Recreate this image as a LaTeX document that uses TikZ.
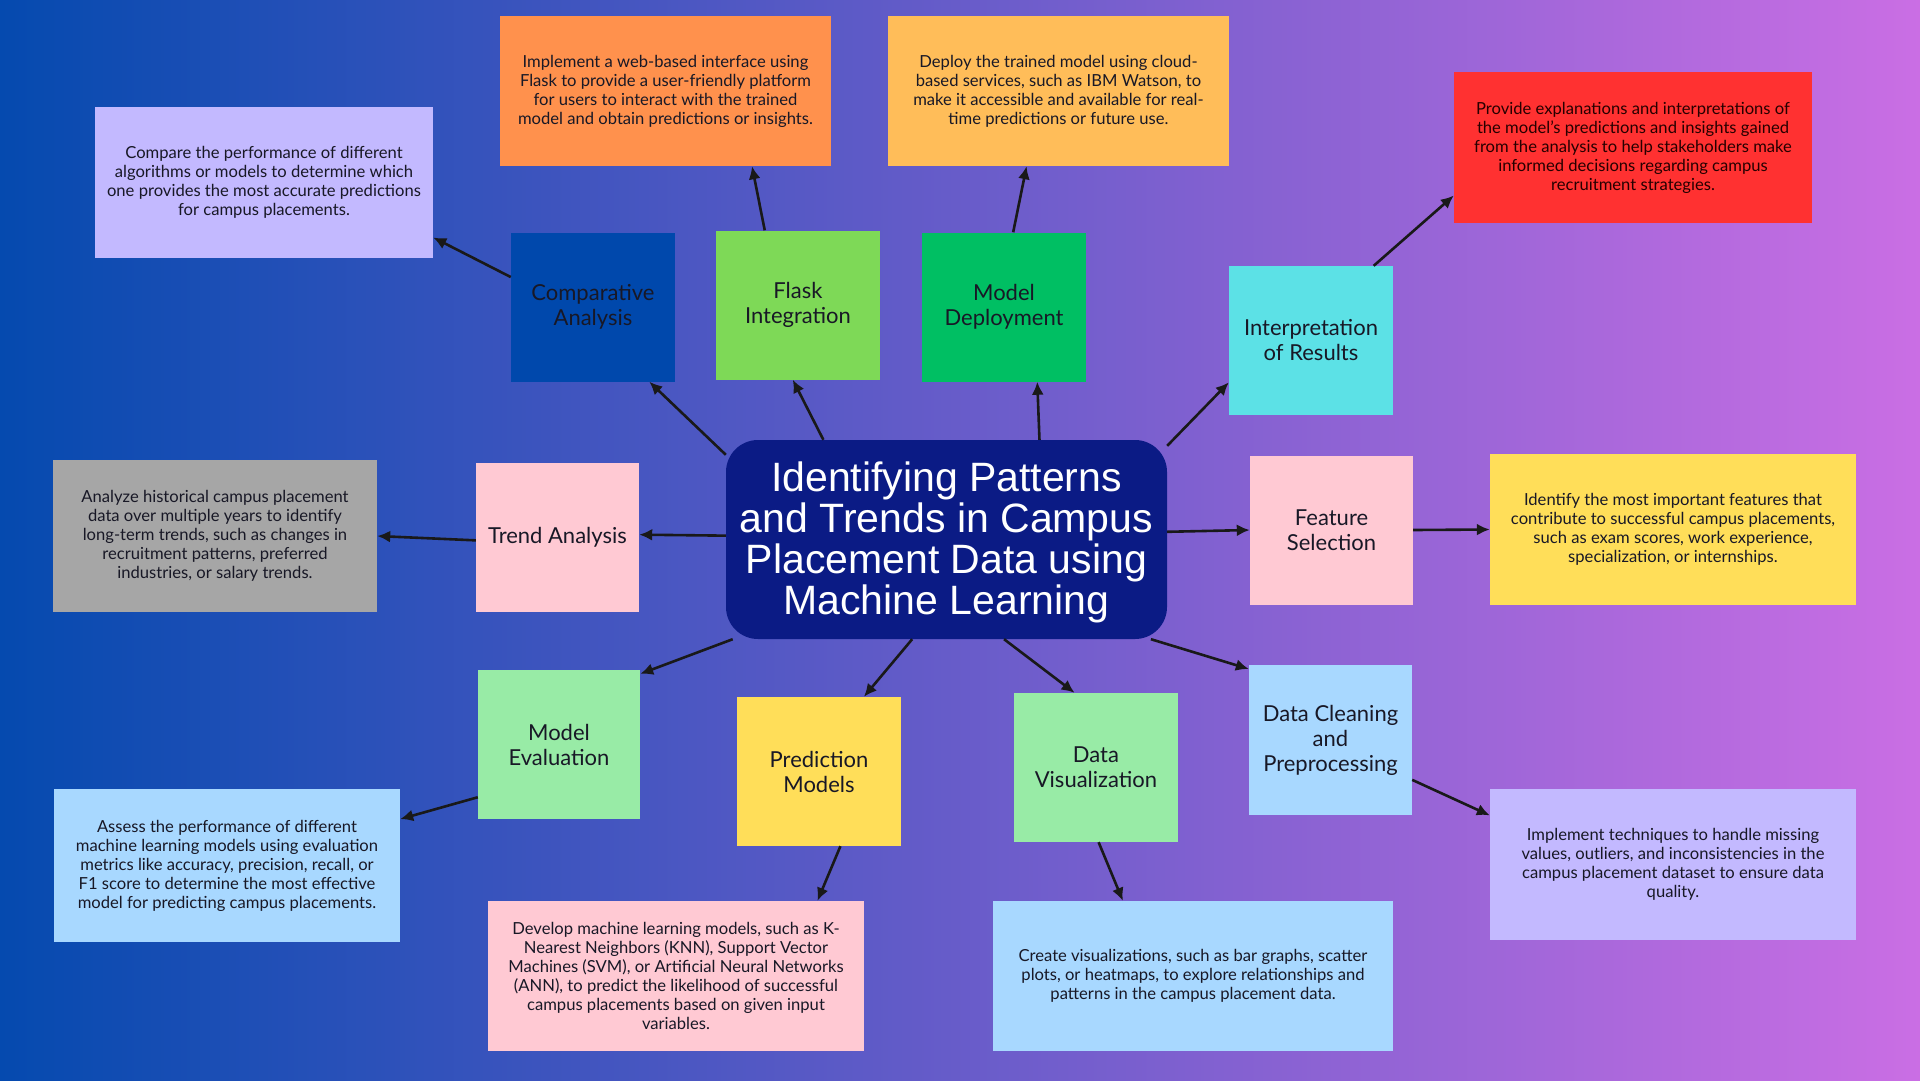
\documentclass[tikz,border=0pt]{standalone}
\usepackage{fontspec}
\setmainfont{Lato}
\newfontfamily\hubfont{Liberation Sans}
\usepackage{tikz}
\usetikzlibrary{arrows.meta}
\definecolor{bgleft}{RGB}{5,74,175}
\definecolor{bgright}{RGB}{202,110,228}
\definecolor{hubnavy}{RGB}{11,27,133}
\definecolor{ink}{RGB}{24,24,38}
\definecolor{cobalt}{RGB}{0,72,172}
\definecolor{lime}{RGB}{126,217,87}
\definecolor{emerald}{RGB}{0,191,99}
\definecolor{aqua}{RGB}{92,225,230}
\definecolor{blush}{RGB}{255,201,211}
\definecolor{mint}{RGB}{152,235,166}
\definecolor{sun}{RGB}{255,222,89}
\definecolor{sky}{RGB}{168,216,255}
\definecolor{lilac}{RGB}{195,185,255}
\definecolor{tangerine}{RGB}{255,145,77}
\definecolor{apricot}{RGB}{255,189,89}
\definecolor{scarlet}{RGB}{255,49,49}
\definecolor{ash}{RGB}{166,166,166}

\begin{document}
\begin{tikzpicture}[x=1pt, y=-1pt,
  cat/.style={minimum width=164pt, minimum height=149pt, align=center, inner sep=2pt,
    text=ink, font=\fontsize{22}{25}\selectfont},
  desc/.style={minimum height=151pt, align=center, inner sep=2pt,
    text=ink, font=\fontsize{16.6}{19}\selectfont},
  link/.style={draw=black!90, line width=2.6pt, -{Latex[length=13pt, width=12pt]}}]
\fill[left color=bgleft, right color=bgright] (0,0) rectangle (1920,1080);
\node[fill=hubnavy, rounded corners=32pt, minimum width=441pt, minimum height=199pt, align=center,
  text=white, font=\hubfont\fontsize{41}{41}\selectfont] (hub) at (946.5,539.5)
  {\rule{0pt}{36pt}Identifying Patterns\\and Trends in Campus\\Placement Data using\\Machine Learning};
\node[cat, fill=cobalt] (comp) at (593,307) {Comparative\\Analysis};
\node[cat, fill=lime] (flask) at (798,305) {Flask\\Integration};
\node[cat, fill=emerald] (deploy) at (1004,307) {Model\\Deployment};
\node[cat, fill=aqua] (interp) at (1311,340.5) {Interpretation\\of Results};
\node[cat, fill=blush, minimum width=163pt] (trend) at (557.5,537.5) {Trend Analysis};
\node[cat, fill=blush, minimum width=163pt] (feature) at (1331.5,530) {Feature\\Selection};
\node[cat, fill=mint, minimum width=162pt] (evalu) at (559,744.5) {Model\\Evaluation};
\node[cat, fill=sun] (predict) at (819,771.5) {Prediction\\Models};
\node[cat, fill=mint] (visual) at (1096,767.5) {Data\\Visualization};
\node[cat, fill=sky, minimum width=163pt, minimum height=150pt] (clean) at (1330.5,740) {Data Cleaning\\and\\Preprocessing};
\node[desc, fill=lilac, minimum width=338pt] (compd) at (264,182.5) {Compare the performance of different\\algorithms or models to determine which\\one provides the most accurate predictions\\for campus placements.};
\node[desc, fill=tangerine, minimum width=331pt, minimum height=150pt] (flaskd) at (665.5,91) {Implement a web-based interface using\\Flask to provide a user-friendly platform\\for users to interact with the trained\\model and obtain predictions or insights.};
\node[desc, fill=apricot, minimum width=341pt, minimum height=150pt] (deployd) at (1058.5,91) {Deploy the trained model using cloud-\\based services, such as IBM Watson, to\\make it accessible and available for real-\\time predictions or future use.};
\node[desc, fill=scarlet, minimum width=358pt, text=black!85!red] (interpd) at (1633,147.5) {Provide explanations and interpretations of\\the model's predictions and insights gained\\from the analysis to help stakeholders make\\informed decisions regarding campus\\recruitment strategies.};
\node[desc, fill=ash, minimum width=324pt, minimum height=152pt] (trendd) at (215,536) {Analyze historical campus placement\\data over multiple years to identify\\long-term trends, such as changes in\\recruitment patterns, preferred\\industries, or salary trends.};
\node[desc, fill=sun, minimum width=366pt] (featured) at (1673,529.5) {Identify the most important features that\\contribute to successful campus placements,\\such as exam scores, work experience,\\specialization, or internships.};
\node[desc, fill=sky, minimum width=346pt, minimum height=153pt] (evald) at (227,865.5) {Assess the performance of different\\machine learning models using evaluation\\metrics like accuracy, precision, recall, or\\F1 score to determine the most effective\\model for predicting campus placements.};
\node[desc, fill=blush, minimum width=376pt, minimum height=150pt] (predictd) at (676,976) {Develop machine learning models, such as K-\\Nearest Neighbors (KNN), Support Vector\\Machines (SVM), or Artificial Neural Networks\\(ANN), to predict the likelihood of successful\\campus placements based on given input\\variables.};
\node[desc, fill=sky, minimum width=400pt, minimum height=150pt] (visuald) at (1193,976) {Create visualizations, such as bar graphs, scatter\\plots, or heatmaps, to explore relationships and\\patterns in the campus placement data.};
\node[desc, fill=lilac, minimum width=366pt] (cleand) at (1673,864.5) {Implement techniques to handle missing\\values, outliers, and inconsistencies in the\\campus placement dataset to ensure data\\quality.};
\draw[link] (hub.159) -- (comp.307);
\draw[link] (hub.141) -- (flask.266);
\draw[link] (hub.47) -- (deploy.294);
\draw[link] (hub.23) -- (interp.207);
\draw[link] (hub.179) -- (trend.2);
\draw[link] (hub.2) -- (feature.180);
\draw[link] (hub.205) -- (evalu.41);
\draw[link] (hub.251) -- (predict.59);
\draw[link] (hub.300) -- (visual.106);
\draw[link] (hub.334) -- (clean.139);
\draw[link] (comp.160) -- (compd.342);
\draw[link] (flask.114) -- (flaskd.319);
\draw[link] (deploy.83) -- (deployd.247);
\draw[link] (interp.50) -- (interpd.195);
\draw[link] (trend.182) -- (trendd.0);
\draw[link] (feature.0) -- (featured.180);
\draw[link] (evalu.213) -- (evald.15);
\draw[link] (predict.286) -- (predictd.28);
\draw[link] (visual.272) -- (visuald.133);
\draw[link] (clean.334) -- (cleand.165);
\end{tikzpicture}
\end{document}
